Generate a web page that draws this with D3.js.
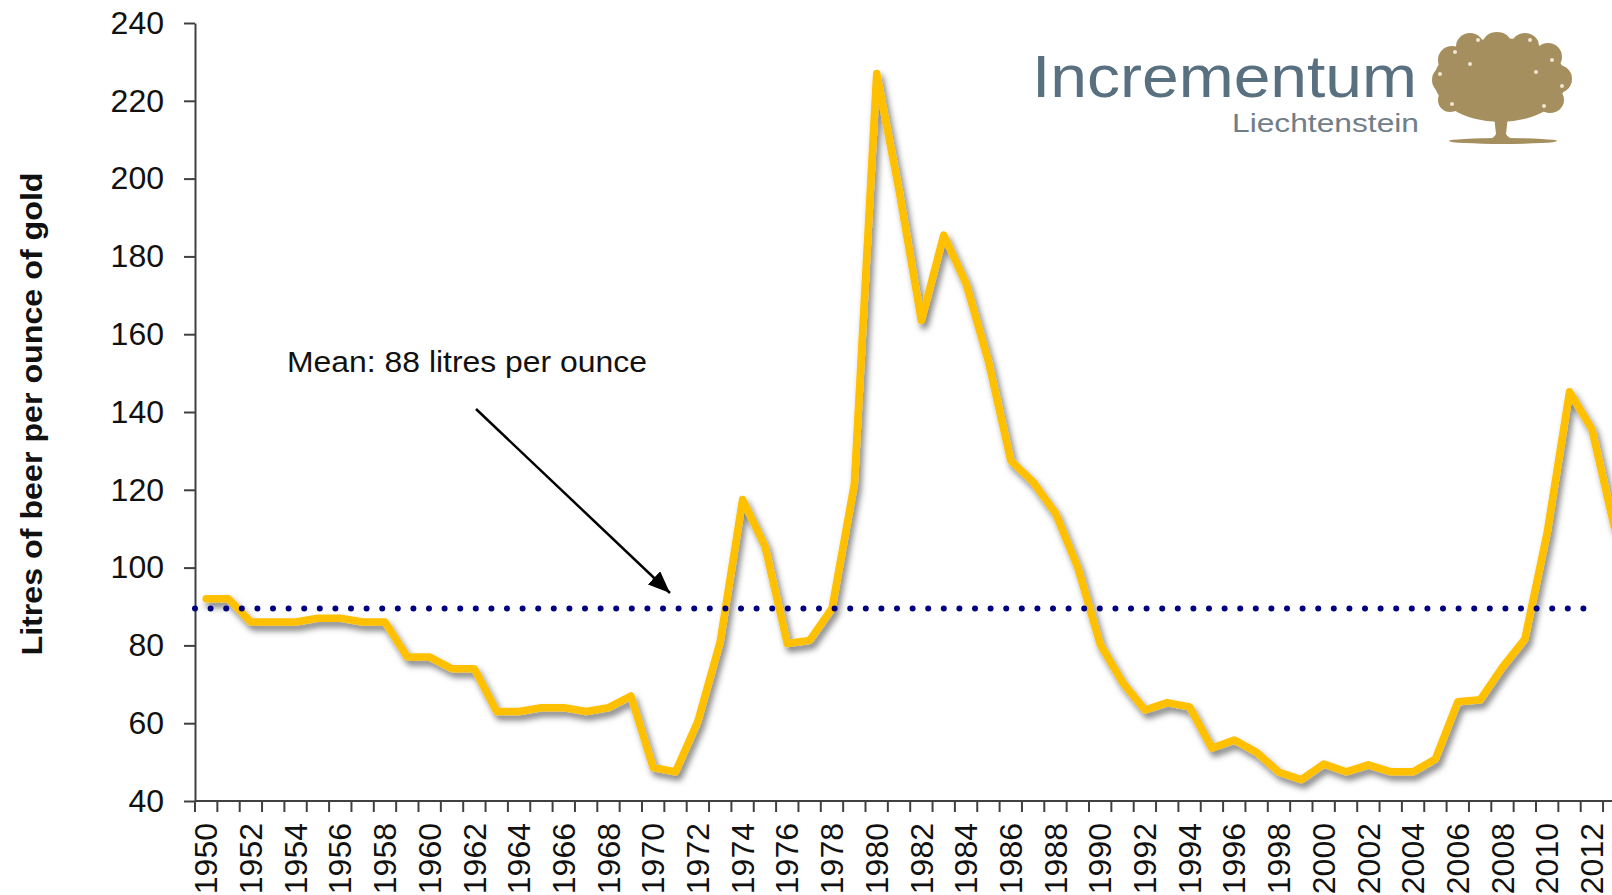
<!DOCTYPE html>
<html lang="en">
<head>
    <meta charset="UTF-8">
    <title>Litres of beer per ounce of gold</title>
    <script src="https://d3js.org/d3.v7.min.js"></script>
    <style>
        body {
            margin: 0;
            background: #fff;
        }

        svg {
            display: block;
            font-family: "Liberation Sans", Arial, sans-serif;
        }

        .axis path,
        .axis line {
            stroke: #404040;
            stroke-width: 2px;
        }

        .axis text {
            fill: #111;
            font-size: 32px;
            font-family: "Liberation Sans", Arial, sans-serif;
        }

        .beer {
            fill: none;
            stroke: #ffc000;
            stroke-width: 7.5px;
            stroke-linejoin: round;
            stroke-linecap: round;
        }

        .mean {
            fill: none;
            stroke: #000080;
            stroke-width: 6px;
            stroke-linecap: round;
            stroke-dasharray: 0 15.6;
        }
    </style>
</head>
<body>
<svg width="1612" height="895"></svg>
<script>
    // years on the category axis, one band per year
    const years = d3.range(1950, 2014);

    // litres of beer one ounce of gold buys, per year
    const litres = [
        92, 92, 86, 86, 86, 87, 87, 86, 86, 77,
        77, 74, 74, 63, 63, 64, 64, 63, 64, 67,
        48.6, 47.5, 60.5, 81, 117.5, 105.5, 80.5, 81.3, 89.5, 121.5,
        227, 197, 163.5, 185.5, 173, 153, 127.5, 122, 114, 100,
        80.3, 70.5, 63.4, 65.3, 64.2, 53.6, 55.7, 52.5, 47.4, 45.5,
        49.5, 47.5, 49.3, 47.5, 47.5, 50.8, 65.5, 66, 74.4, 81.6,
        109, 145.2, 135.6, 110.5
    ];

    const yTicks = [40, 60, 80, 100, 120, 140, 160, 180, 200, 220, 240];
    const labelYears = years.filter(d => d % 2 === 0);

    // the dotted mean line as drawn, and its span
    const meanValue = 89.5;
    const meanSpan = [1950, 2012];

    const svg = d3.select("svg");

    const plotLeft = 195, plotTop = 23, plotBottom = 801, band = 22.35;

    const x = d3.scaleBand()
        .domain(years)
        .range([plotLeft, plotLeft + years.length * band])
        .padding(0);

    const y = d3.scaleLinear()
        .domain([40, 240])
        .range([plotBottom, plotTop]);

    const cx = d => x(d) + x.bandwidth() / 2;

    const defs = svg.append("defs");

    defs.append("filter")
        .attr("id", "shadow")
        .attr("filterUnits", "userSpaceOnUse")
        .attr("x", 0).attr("y", 0)
        .attr("width", 1700).attr("height", 895)
        .append("feDropShadow")
        .attr("dx", 3)
        .attr("dy", 5)
        .attr("stdDeviation", 3)
        .attr("flood-color", "#000")
        .attr("flood-opacity", 0.5);

    defs.append("marker")
        .attr("id", "arrow")
        .attr("markerUnits", "userSpaceOnUse")
        .attr("markerWidth", 24)
        .attr("markerHeight", 18)
        .attr("refX", 22)
        .attr("refY", 9)
        .attr("orient", "auto")
        .append("path")
        .attr("d", "M0,0 L22,9 L0,18 Z")
        .attr("fill", "#000");

    // y axis
    svg.append("g")
        .attr("class", "axis")
        .attr("transform", `translate(${plotLeft},0)`)
        .call(d3.axisLeft(y)
            .tickValues(yTicks)
            .tickSize(11)
            .tickSizeOuter(0)
            .tickPadding(20));

    // x axis: a tick at every band edge, labels on even years
    const xAxis = svg.append("g").attr("class", "axis");

    xAxis.append("line")
        .attr("x1", plotLeft)
        .attr("x2", x.range()[1])
        .attr("y1", plotBottom)
        .attr("y2", plotBottom);

    xAxis.selectAll("line.tick")
        .data(years)
        .enter().append("line")
        .attr("class", "tick")
        .attr("x1", d => x(d))
        .attr("x2", d => x(d))
        .attr("y1", plotBottom)
        .attr("y2", plotBottom + 11);

    xAxis.selectAll("text")
        .data(labelYears)
        .enter().append("text")
        .attr("transform", d => `translate(${cx(d)},${plotBottom + 22}) rotate(-90)`)
        .attr("text-anchor", "end")
        .attr("dy", "0.35em")
        .text(d => d);

    // y axis title
    svg.append("text")
        .attr("transform", "translate(31.5,414) rotate(-90)")
        .attr("text-anchor", "middle")
        .attr("dy", "0.35em")
        .attr("font-size", 30)
        .attr("font-weight", "bold")
        .attr("textLength", 483)
        .attr("lengthAdjust", "spacingAndGlyphs")
        .attr("fill", "#111")
        .text("Litres of beer per ounce of gold");

    // the series
    const line = d3.line()
        .x((d, i) => cx(years[i]))
        .y(d => y(d));

    svg.append("path")
        .datum(litres)
        .attr("class", "beer")
        .attr("filter", "url(#shadow)")
        .attr("d", line);

    svg.append("line")
        .attr("class", "mean")
        .attr("x1", x(meanSpan[0]))
        .attr("x2", cx(meanSpan[1]))
        .attr("y1", y(meanValue))
        .attr("y2", y(meanValue));

    // annotation
    svg.append("text")
        .attr("x", 287)
        .attr("y", 372)
        .attr("font-size", 29)
        .attr("textLength", 360)
        .attr("lengthAdjust", "spacingAndGlyphs")
        .attr("fill", "#111")
        .text("Mean: 88 litres per ounce");

    svg.append("line")
        .attr("x1", 476)
        .attr("y1", 409)
        .attr("x2", 670)
        .attr("y2", 593)
        .attr("stroke", "#000")
        .attr("stroke-width", 2.5)
        .attr("marker-end", "url(#arrow)");

    // logo
    const logo = svg.append("g");

    logo.append("text")
        .attr("x", 1032)
        .attr("y", 97)
        .attr("font-size", 60)
        .attr("textLength", 385)
        .attr("lengthAdjust", "spacingAndGlyphs")
        .attr("fill", "#587080")
        .text("Incrementum");

    logo.append("text")
        .attr("x", 1232)
        .attr("y", 132)
        .attr("font-size", 26)
        .attr("textLength", 187)
        .attr("lengthAdjust", "spacingAndGlyphs")
        .attr("fill", "#6f7e89")
        .text("Liechtenstein");

    const treeColor = "#a68f5f";
    const canopy = [
        [1500, 80, 66, 42],
        [1446, 80, 14, 14], [1452, 60, 14, 14], [1470, 47, 14, 14],
        [1497, 43, 14, 11], [1525, 46, 14, 13], [1548, 57, 14, 14],
        [1558, 79, 14, 14], [1550, 100, 14, 13], [1450, 100, 12, 12]
    ];

    logo.selectAll("ellipse.c")
        .data(canopy)
        .enter().append("ellipse")
        .attr("class", "c")
        .attr("cx", d => d[0])
        .attr("cy", d => d[1])
        .attr("rx", d => d[2])
        .attr("ry", d => d[3])
        .attr("fill", treeColor);

    // light speckles in the crown
    const speckles = [
        [1440, 74], [1455, 52], [1478, 40], [1530, 40], [1552, 60],
        [1562, 86], [1544, 106], [1452, 104], [1470, 64], [1536, 72]
    ];

    logo.selectAll("circle.s")
        .data(speckles)
        .enter().append("circle")
        .attr("class", "s")
        .attr("cx", d => d[0])
        .attr("cy", d => d[1])
        .attr("r", 2)
        .attr("fill", "#efe6d2");

    logo.append("path")
        .attr("d", "M1494,116 L1496,134 Q1494,139 1484,141 L1520,141 Q1508,139 1506,134 L1508,116 Z")
        .attr("fill", treeColor);

    logo.append("ellipse")
        .attr("cx", 1503)
        .attr("cy", 141)
        .attr("rx", 54)
        .attr("ry", 3)
        .attr("fill", treeColor);
</script>
</body>
</html>
